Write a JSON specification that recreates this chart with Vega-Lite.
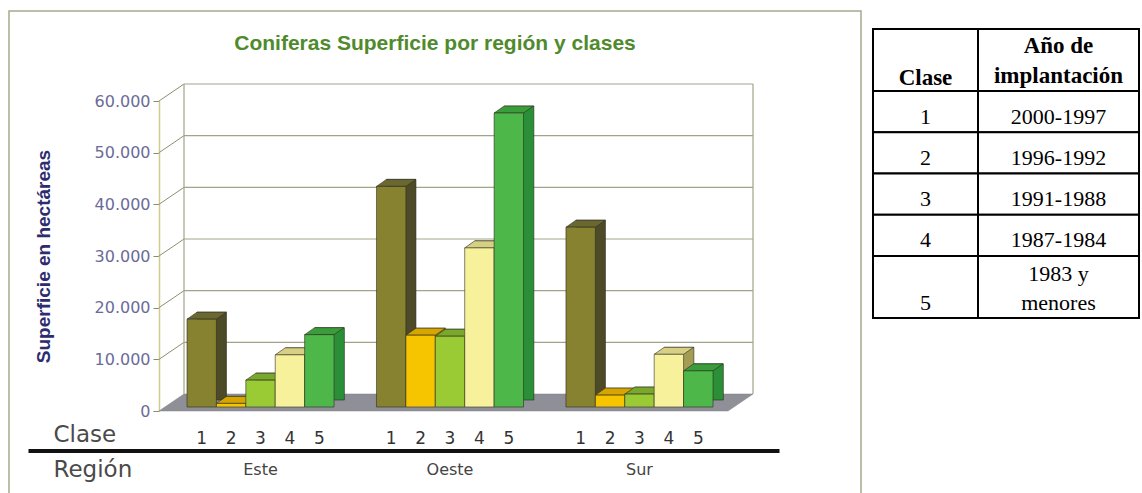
{
  "$schema": "https://vega.github.io/schema/vega-lite/v6.json",
  "padding": {"left": 8, "top": 10, "right": 0, "bottom": 0},
  "background": "white",
  "spacing": 12,
  "bounds": "flush",
  "config": {"view": {"stroke": "#a9a98c", "strokeWidth": 1.5}},
  "datasets": {
    "superficie": [
      {"Region": "Este", "Clase": "1", "Superficie": 17000},
      {"Region": "Este", "Clase": "2", "Superficie": 700},
      {"Region": "Este", "Clase": "3", "Superficie": 5200},
      {"Region": "Este", "Clase": "4", "Superficie": 10100},
      {"Region": "Este", "Clase": "5", "Superficie": 14000},
      {"Region": "Oeste", "Clase": "1", "Superficie": 42700},
      {"Region": "Oeste", "Clase": "2", "Superficie": 13900},
      {"Region": "Oeste", "Clase": "3", "Superficie": 13700},
      {"Region": "Oeste", "Clase": "4", "Superficie": 30800},
      {"Region": "Oeste", "Clase": "5", "Superficie": 56900},
      {"Region": "Sur", "Clase": "1", "Superficie": 34800},
      {"Region": "Sur", "Clase": "2", "Superficie": 2300},
      {"Region": "Sur", "Clase": "3", "Superficie": 2500},
      {"Region": "Sur", "Clase": "4", "Superficie": 10200},
      {"Region": "Sur", "Clase": "5", "Superficie": 7000}
    ],
    "tabla": [
      {"clase": "1", "anio": "2000-1997"},
      {"clase": "2", "anio": "1996-1992"},
      {"clase": "3", "anio": "1991-1988"},
      {"clase": "4", "anio": "1987-1984"},
      {"clase": "5", "anio": "1983 y\nmenores"}
    ]
  },
  "hconcat": [
    {
      "width": 852,
      "height": 483,
      "title": {"text": "Coniferas Superficie por región y clases", "font": "Liberation Sans", "fontSize": 21, "fontWeight": "bold", "color": "#4f8a2c", "anchor": "middle", "baseline": "middle", "offset": -54},
      "resolve": {"scale": {"x": "independent"}},
      "layer": [
        {
          "layer": [
            {
              "data": {"values": [{"piso": "suelo"}]},
              "mark": {"type": "point", "shape": "M -0.81286 0 L 0.81286 0 L 0.88429 -0.04857 L -0.74143 -0.04857 Z", "size": 490000, "filled": true, "fill": "#8f8f97", "stroke": "#80808a", "strokeWidth": 0.5, "opacity": 1},
              "encoding": {
                "x": {"datum": 0.5, "type": "quantitative", "scale": {"domain": [0, 1], "range": [150, 719]}, "axis": null},
                "y": {"datum": 0, "type": "quantitative", "title": "Superficie en hectáreas"}
              }
            },
            {
              "data": {"values": [{"v": 10000}, {"v": 20000}, {"v": 30000}, {"v": 40000}, {"v": 50000}, {"v": 60000}]},
              "mark": {"type": "rule", "xOffset": 25, "x2Offset": 25, "yOffset": -17, "color": "#a3a38a", "strokeWidth": 1.2},
              "encoding": {
                "x": {"datum": 0, "type": "quantitative", "axis": null},
                "x2": {"datum": 1},
                "y": {"field": "v", "type": "quantitative", "title": "Superficie en hectáreas"}
              }
            },
            {
              "data": {"values": [{"v": 10000}, {"v": 20000}, {"v": 30000}, {"v": 40000}, {"v": 50000}, {"v": 60000}]},
              "mark": {"type": "rule", "x2Offset": 25, "y2Offset": -17, "color": "#8e8e6e", "strokeWidth": 1},
              "encoding": {
                "x": {"datum": 0, "type": "quantitative", "axis": null},
                "x2": {"datum": 0},
                "y": {"field": "v", "type": "quantitative", "title": "Superficie en hectáreas"},
                "y2": {"field": "v"}
              }
            },
            {
              "data": {"values": [{"lado": 0}, {"lado": 1}]},
              "mark": {"type": "rule", "xOffset": 25, "yOffset": -17, "y2Offset": -17, "color": "#a3a38a", "strokeWidth": 1.2},
              "encoding": {
                "x": {"field": "lado", "type": "quantitative", "axis": null},
                "y": {"datum": 0, "type": "quantitative", "title": "Superficie en hectáreas"},
                "y2": {"datum": 60000}
              }
            }
          ]
        },
        {
          "data": {"name": "superficie"},
          "encoding": {
            "x": {
              "field": "Region", "type": "nominal", "sort": ["Este", "Oeste", "Sur"],
              "scale": {"range": [178, 704], "paddingInner": 0.224, "paddingOuter": 0},
              "axis": {"orient": "bottom", "offset": -33, "domain": false, "ticks": false, "grid": false, "labelPadding": 0, "labelAngle": 0, "labelFont": "DejaVu Sans", "labelFontSize": 16, "labelColor": "#444444", "title": "Región", "titleFont": "DejaVu Sans", "titleFontSize": 23, "titleFontWeight": "normal", "titleColor": "#4a4a4a", "titleX": 44, "titleY": 8, "titleAlign": "left", "titleBaseline": "middle", "titleAngle": 0}
            },
            "y": {
              "field": "Superficie", "type": "quantitative", "title": "Superficie en hectáreas",
              "scale": {"domain": [0, 60000], "range": [400, 90], "nice": false, "zero": false},
              "axis": {"orient": "left", "offset": -150, "values": [0, 10000, 20000, 30000, 40000, 50000, 60000], "labelExpr": "replace(format(datum.value, ','), ',', '.')", "labelFont": "DejaVu Sans", "labelFontSize": 16, "labelColor": "#6b6b98", "labelPadding": 3, "tickSize": 6, "tickColor": "#8a8a6a", "domainColor": "#cfcb8e", "domainWidth": 1.5, "grid": false, "title": "Superficie en hectáreas", "titleFont": "Liberation Sans", "titleFontSize": 19, "titleFontWeight": "bold", "titleColor": "#2c2c6e", "titleX": -116, "titleY": 245, "titleAngle": -90, "titleAlign": "center", "titleBaseline": "middle"}
            }
          },
          "resolve": {"scale": {"color": "independent", "xOffset": "independent"}},
          "layer": [
            {
              "mark": {"type": "bar", "yOffset": -11, "y2Offset": -11, "stroke": "#2e2e22", "strokeWidth": 0.6},
              "encoding": {
                "xOffset": {"field": "Clase", "type": "nominal", "scale": {"domain": ["1", "2", "3", "4", "5"], "range": [10, 157.4], "paddingInner": 0, "paddingOuter": 0}},
                "color": {"field": "Clase", "type": "nominal", "scale": {"domain": ["1", "2", "3", "4", "5"], "range": ["#4d4a28", "#b08600", "#5f8f22", "#a39c55", "#2a8f36"]}, "legend": null}
              }
            },
            {
              "layer": [
                {
                  "mark": {"type": "point", "shape": "M -0.49 0 L 0.49 0 L 0.8233 -0.2333 L -0.1567 -0.2333 Z", "size": 3600, "filled": true, "opacity": 1, "yOffset": -4, "stroke": "#2e2e22", "strokeWidth": 0.6},
                  "encoding": {"color": {"field": "Clase", "type": "nominal", "scale": {"domain": ["1", "2", "3", "4", "5"], "range": ["#6b6730", "#d7a500", "#7aa82c", "#d6cf84", "#3a9c3a"]}, "legend": null}}
                },
                {
                  "mark": {"type": "bar", "yOffset": -4, "y2Offset": -4, "stroke": "#2e2e22", "strokeWidth": 0.6},
                  "encoding": {"color": {"field": "Clase", "type": "nominal", "scale": {"domain": ["1", "2", "3", "4", "5"], "range": ["#87822f", "#f6c500", "#9acb34", "#f7f19c", "#4db749"]}, "legend": null}}
                },
                {
                  "mark": {"type": "text", "dy": 28, "fontSize": 17, "font": "DejaVu Sans", "color": "#333333", "baseline": "middle"},
                  "encoding": {
                    "y": {"datum": 0, "type": "quantitative", "title": "Superficie en hectáreas"},
                    "text": {"field": "Clase"}
                  }
                }
              ],
              "encoding": {
                "xOffset": {"field": "Clase", "type": "nominal", "scale": {"paddingInner": 0, "paddingOuter": 0}}
              },
              "resolve": {"scale": {"color": "independent"}}
            }
          ]
        },
        {
          "data": {"values": [{"linea": "Clase"}]},
          "mark": {"type": "rule", "opacity": 0},
          "encoding": {
            "x": {
              "datum": 0, "type": "quantitative",
              "scale": {"domain": [0, 1], "range": [19, 770]},
              "axis": {"orient": "bottom", "offset": -43.5, "domain": true, "domainColor": "#111111", "domainWidth": 4, "ticks": false, "labels": false, "grid": false, "title": "Clase", "titleFont": "DejaVu Sans", "titleFontSize": 23, "titleFontWeight": "normal", "titleColor": "#4a4a4a", "titleX": 44, "titleY": -16.5, "titleAlign": "left", "titleBaseline": "middle", "titleAngle": 0}
            }
          }
        }
      ]
    },
    {
      "spacing": 0,
      "bounds": "flush",
      "vconcat": [
        {
          "width": 266, "height": 18,
          "view": {"stroke": null},
          "data": {"values": [{}]},
          "mark": {"type": "point", "opacity": 0}
        },
        {
          "columns": 2,
          "spacing": 0,
          "bounds": "flush",
          "concat": [
            {
              "width": 105, "height": 62,
              "view": {"stroke": "black", "strokeWidth": 2},
              "data": {"values": [{"col": "Clase"}]},
              "mark": {"type": "text", "font": "Liberation Serif", "fontSize": 23, "fontWeight": "bold", "color": "black", "baseline": "middle", "dy": 18},
              "encoding": {"text": {"field": "col"}}
            },
            {
              "width": 161, "height": 62,
              "view": {"stroke": "black", "strokeWidth": 2},
              "data": {"values": [{"col": "Año de\nimplantación"}]},
              "mark": {"type": "text", "font": "Liberation Serif", "fontSize": 23, "fontWeight": "bold", "color": "black", "baseline": "middle", "lineBreak": "\n", "lineHeight": 30, "dy": -14},
              "encoding": {"text": {"field": "col"}}
            },
            {
              "width": 105, "height": 165,
              "view": {"stroke": "black", "strokeWidth": 2},
              "data": {"name": "tabla"},
              "transform": [{"filter": "datum.clase != '5'"}],
              "encoding": {"y": {"field": "clase", "type": "nominal", "scale": {"paddingInner": 0, "paddingOuter": 0}, "axis": null}},
              "layer": [
                {"mark": {"type": "rect", "fill": "white", "stroke": "black", "strokeWidth": 2}},
                {"mark": {"type": "text", "font": "Liberation Serif", "fontSize": 22, "color": "black", "baseline": "middle", "dy": 5}, "encoding": {"text": {"field": "clase"}}}
              ]
            },
            {
              "width": 161, "height": 165,
              "view": {"stroke": "black", "strokeWidth": 2},
              "data": {"name": "tabla"},
              "transform": [{"filter": "datum.clase != '5'"}],
              "encoding": {"y": {"field": "clase", "type": "nominal", "scale": {"paddingInner": 0, "paddingOuter": 0}, "axis": null}},
              "layer": [
                {"mark": {"type": "rect", "fill": "white", "stroke": "black", "strokeWidth": 2}},
                {"mark": {"type": "text", "font": "Liberation Serif", "fontSize": 22, "color": "black", "baseline": "middle", "dy": 5}, "encoding": {"text": {"field": "anio"}}}
              ]
            },
            {
              "width": 105, "height": 62,
              "view": {"stroke": "black", "strokeWidth": 2},
              "data": {"name": "tabla"},
              "transform": [{"filter": "datum.clase == '5'"}],
              "mark": {"type": "text", "font": "Liberation Serif", "fontSize": 22, "color": "black", "baseline": "middle", "dy": 16},
              "encoding": {"text": {"field": "clase"}}
            },
            {
              "width": 161, "height": 62,
              "view": {"stroke": "black", "strokeWidth": 2},
              "data": {"name": "tabla"},
              "transform": [{"filter": "datum.clase == '5'"}],
              "mark": {"type": "text", "font": "Liberation Serif", "fontSize": 22, "color": "black", "baseline": "middle", "lineBreak": "\n", "lineHeight": 29, "dy": -13},
              "encoding": {"text": {"field": "anio"}}
            }
          ]
        }
      ]
    }
  ]
}
